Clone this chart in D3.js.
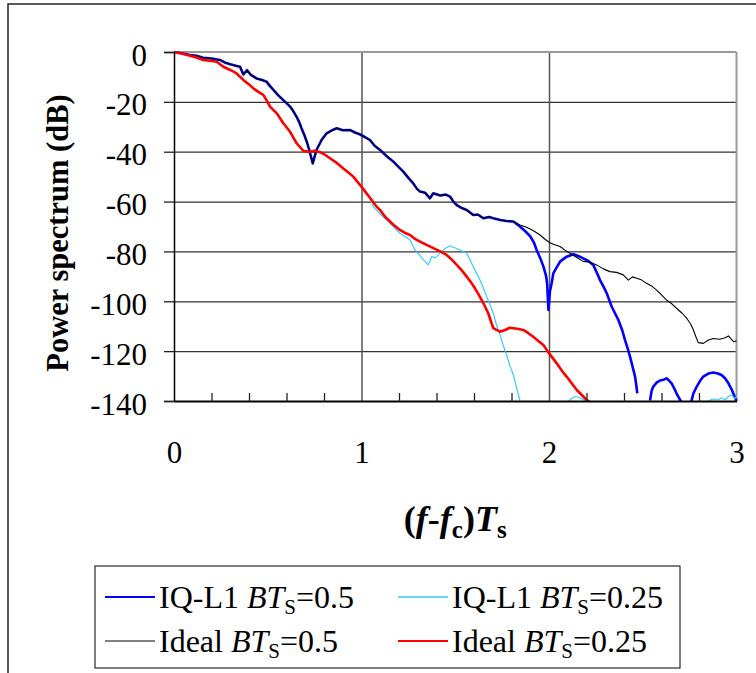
<!DOCTYPE html>
<html>
<head>
<meta charset="utf-8">
<script src="https://cdn.jsdelivr.net/npm/d3@7"></script>
<style>
  body { margin: 0; background: #fff; }
  svg { display: block; font-family: "Liberation Serif", "Times New Roman", serif; }
</style>
</head>
<body>
<svg id="chart" width="756" height="673"></svg>
<script>
// values, [ (f-fc)Ts , dB ], null = gap / off the plot
const idealBT05 = [
  [0,0],[0.04,-0.5],[0.085,-1.2],[0.12,-1.5],[0.156,-2.3],[0.2,-2.6],[0.245,-3.2],[0.27,-4.2],[0.3,-4.9],
  [0.33,-5.5],[0.352,-5.9],[0.37,-9],[0.39,-7.3],[0.41,-9.2],[0.44,-10.6],[0.47,-11.2],[0.494,-11.9],
  [0.51,-13.5],[0.53,-15.2],[0.555,-17.3],[0.583,-19.3],[0.6,-20.5],[0.619,-21.9],[0.635,-23.6],[0.654,-26],
  [0.668,-28.2],[0.68,-30.6],[0.695,-33.3],[0.708,-36],[0.722,-39.5],[0.74,-44.7],[0.76,-39.3],[0.787,-35.3],
  [0.814,-32.6],[0.84,-31.5],[0.868,-30.6],[0.9,-31.4],[0.94,-31.3],[0.965,-32.3],[0.99,-33],[1.02,-34.2],
  [1.045,-35.3],[1.07,-37.6],[1.099,-39.3],[1.135,-41.8],[1.17,-44],[1.2,-46.3],[1.223,-48],[1.25,-50.5],
  [1.276,-52.7],[1.295,-54.8],[1.312,-56],[1.34,-56.5],[1.365,-58.7],[1.383,-56.7],[1.42,-57.6],[1.45,-57.2],
  [1.472,-58],[1.49,-60],[1.508,-61.4],[1.535,-62.6],[1.561,-63.4],[1.596,-65.4],[1.62,-65.2],[1.65,-66.7],
  [1.68,-66.2],[1.703,-66.7],[1.74,-67.4],[1.774,-67.8],[1.81,-68],[1.845,-69.4],[1.88,-70.3],[1.915,-71.6],
  [1.952,-73.4],[1.98,-75.2],[2.005,-76.5],[2.03,-77.3],[2.059,-78],[2.085,-79.5],[2.112,-80.7],[2.15,-82.5],
  [2.183,-84],[2.22,-84.3],[2.254,-85.4],[2.29,-87],[2.325,-88.1],[2.36,-88.4],[2.396,-89.4],[2.423,-91.5],
  [2.445,-90.2],[2.468,-90.8],[2.495,-91.5],[2.52,-92.8],[2.55,-94],[2.574,-95.5],[2.6,-97.4],[2.627,-99.5],
  [2.655,-101],[2.68,-102.8],[2.71,-104.8],[2.734,-106.8],[2.755,-109],[2.77,-111.5],[2.785,-114.5],
  [2.796,-116.6],[2.823,-116.9],[2.85,-115.5],[2.876,-114.9],[2.91,-115.2],[2.939,-114.6],[2.957,-113.9],
  [2.97,-115],[2.984,-116.2],[3.0,-115.8]
];

// IQ-L1 BTs=0.5 sits on the ideal curve up to ~1.81, then splits off
const iqBT05Tail = [
  [1.845,-70],[1.875,-72],[1.9,-74],[1.92,-76.5],[1.934,-79.4],[1.955,-83],[1.97,-86],[1.985,-90],[1.99,-93],
  [1.997,-103.5],[2.005,-96],[2.014,-92.8],[2.023,-88.8],[2.04,-86.5],[2.06,-84],[2.094,-82.1],[2.13,-81.1],
  [2.155,-81.8],[2.183,-82.8],[2.21,-83.8],[2.236,-85.4],[2.255,-88.5],[2.272,-91.5],[2.29,-94],[2.308,-96.8],
  [2.334,-102.1],[2.35,-104.5],[2.37,-107.5],[2.39,-111.5],[2.405,-115.5],[2.42,-119],[2.432,-122.2],
  [2.445,-126],[2.459,-130.2],[2.466,-134],[2.471,-136.9],[2.5,null],
  [2.539,-139.8],[2.547,-136],[2.556,-134.2],[2.575,-132.5],[2.592,-131.8],[2.61,-131.5],[2.627,-130.9],
  [2.64,-131.8],[2.654,-132.9],[2.668,-135],[2.68,-136.9],[2.695,-139],[2.707,-140.5],[2.73,null],
  [2.758,-140.5],[2.77,-137],[2.788,-134.2],[2.805,-132],[2.823,-130.2],[2.85,-129],[2.876,-128.6],[2.9,-129],
  [2.92,-129.6],[2.94,-131],[2.957,-132.9],[2.975,-135.5],[2.99,-138.3],[3.0,-140]
];

const idealBT025 = [
  [0,0],[0.04,-0.6],[0.085,-1.5],[0.12,-2.2],[0.156,-3.2],[0.19,-3.5],[0.228,-3.9],[0.263,-5.9],[0.3,-7.2],
  [0.334,-8.6],[0.37,-11.2],[0.4,-13],[0.423,-14.6],[0.45,-16],[0.476,-17.2],[0.495,-19.5],[0.512,-21.9],
  [0.548,-24.6],[0.583,-28.6],[0.619,-32],[0.654,-36.6],[0.69,-39.7],[0.725,-40],[0.75,-39.6],[0.779,-40.2],
  [0.805,-41.2],[0.832,-42.6],[0.87,-44.6],[0.903,-46.7],[0.93,-48.3],[0.956,-50],[0.975,-51.8],[0.992,-53.3],
  [1.02,-56],[1.045,-58.5],[1.075,-61.5],[1.099,-63.4],[1.12,-65.5],[1.134,-66.7],[1.17,-69.3],[1.205,-71.4],
  [1.23,-72.5],[1.259,-73.4],[1.285,-75],[1.312,-76.1],[1.35,-77.5],[1.383,-78.7],[1.42,-80],[1.454,-81.4],
  [1.48,-83.2],[1.508,-85.4],[1.535,-87.6],[1.561,-90.1],[1.585,-92.5],[1.605,-94.8],[1.625,-97.3],
  [1.641,-99.5],[1.658,-102],[1.676,-104.8],[1.69,-108],[1.703,-110.8],[1.72,-111.5],[1.739,-112.2],
  [1.765,-111.5],[1.792,-110.6],[1.83,-111],[1.863,-111.5],[1.89,-112.8],[1.916,-114.2],[1.945,-116],
  [1.97,-117.5],[1.997,-120.5],[2.02,-122.8],[2.041,-124.9],[2.07,-128],[2.094,-130.2],[2.12,-132.8],
  [2.148,-135.6],[2.175,-137.6],[2.201,-139.6],[2.23,-141]
];

// IQ-L1 BTs=0.25 sits under the red curve up to ~1.05
const iqBT025Tail = [
  [1.063,-62],[1.1,-65],[1.152,-68.7],[1.205,-72.7],[1.259,-75.4],[1.285,-79.4],[1.31,-81.5],[1.33,-83.4],
  [1.356,-85.4],[1.374,-82.1],[1.395,-82.5],[1.419,-80.7],[1.445,-78.8],[1.472,-77.8],[1.5,-78.6],
  [1.525,-79.4],[1.561,-80.7],[1.58,-83.5],[1.596,-86.1],[1.615,-89],[1.632,-91.5],[1.65,-94.8],[1.668,-98.2],
  [1.685,-101.5],[1.703,-104.8],[1.72,-109.5],[1.739,-113.5],[1.755,-117.5],[1.774,-121.5],[1.79,-125.5],
  [1.81,-129.6],[1.825,-134],[1.842,-139],[1.85,-141],[1.9,null],
  [2.1,-140.5],[2.12,-139],[2.14,-138.2],[2.16,-138.5],[2.18,-139.3],[2.2,-140.5],[2.3,null],
  [2.84,-140.5],[2.87,-139.2],[2.9,-139.6],[2.92,-138.8],[2.94,-139.5],[2.96,-138],[2.975,-137.6],
  [2.99,-139],[3.0,-138.4]
];

const iqBT05 = idealBT05.filter(d => d[0] <= 1.81).concat(iqBT05Tail);
const iqBT025 = idealBT025.filter(d => d[0] <= 1.045).concat(iqBT025Tail);

const yTicks = [0, -20, -40, -60, -80, -100, -120, -140];
const xTicks = [0, 1, 2, 3];
const xMinor = [0.2, 0.4, 0.6, 0.8, 1.2, 1.4, 1.6, 1.8, 2.2, 2.4, 2.6, 2.8];

const series = [
  {name: "IQ-L1", bt: "0.5",  data: iqBT05,     color: "#0000ff", key: "#0000ff", w: 2.6},
  {name: "IQ-L1", bt: "0.25", data: iqBT025,    color: "#33ccff", key: "#66d6ff", w: 1.2},
  {name: "Ideal", bt: "0.5",  data: idealBT05,  color: "#000000", key: "#808080", w: 1.1},
  {name: "Ideal", bt: "0.25", data: idealBT025, color: "#ff0000", key: "#ff0000", w: 2.6}
];

const svg = d3.select("#chart");

const x = d3.scaleLinear().domain([0, 3]).range([174, 736.5]);
const y = d3.scaleLinear().domain([-140, 0]).range([401, 52]);

// outer chart frame (cut off at right / bottom like the picture)
svg.append("rect")
  .attr("x", 8).attr("y", 4).attr("width", 800).attr("height", 720)
  .attr("fill", "none").attr("stroke", "#222").attr("stroke-width", 1.5);

// horizontal grid
svg.append("g")
  .attr("transform", `translate(${x(0)},0)`)
  .call(d3.axisLeft(y).tickValues(yTicks.filter(d => d < 0 && d > -140)).tickSize(-(x(3) - x(0))).tickFormat(""))
  .call(g => g.select(".domain").remove())
  .call(g => g.selectAll("line").attr("stroke", "#333").attr("stroke-width", 1.3));

// vertical grid
svg.append("g")
  .attr("transform", `translate(0,${y(-140)})`)
  .call(d3.axisBottom(x).tickValues([1, 2]).tickSize(-(y(-140) - y(0))).tickFormat(""))
  .call(g => g.select(".domain").remove())
  .call(g => g.selectAll("line").attr("stroke", "#555").attr("stroke-width", 1.5));

// top and right borders of plot area
svg.append("line").attr("x1", x(0)).attr("x2", x(3)).attr("y1", y(0)).attr("y2", y(0))
  .attr("stroke", "#999").attr("stroke-width", 2);
svg.append("line").attr("x1", x(3)).attr("x2", x(3)).attr("y1", y(0)).attr("y2", y(-140))
  .attr("stroke", "#999").attr("stroke-width", 2);

svg.append("clipPath").attr("id", "plotclip")
  .append("rect").attr("x", x(0)).attr("y", y(0) - 3).attr("width", x(3) - x(0) + 2).attr("height", y(-140) - y(0) + 3);

const line = d3.line()
  .defined(d => d[1] !== null)
  .x(d => x(d[0]))
  .y(d => y(d[1]));

svg.append("g").attr("clip-path", "url(#plotclip)")
  .selectAll("path")
  .data(series)
  .join("path")
  .attr("d", d => line(d.data))
  .attr("fill", "none")
  .attr("stroke", d => d.color)
  .attr("stroke-width", d => d.w)
  .attr("stroke-linejoin", "round");

// y axis
svg.append("g")
  .attr("transform", `translate(${x(0)},0)`)
  .call(d3.axisLeft(y).tickValues(yTicks).tickSize(10).tickPadding(17).tickFormat(d => String(d)))
  .call(g => g.select(".domain").attr("stroke", "#000").attr("stroke-width", 1.5))
  .call(g => g.selectAll("line").attr("stroke", "#222").attr("stroke-width", 1.3))
  .call(g => g.selectAll("text").attr("dy", "0.42em")
    .attr("font-family", "Liberation Serif").attr("font-size", 31).attr("fill", "#000"));

// x axis: labels
svg.append("g")
  .attr("transform", `translate(0,${y(-140)})`)
  .call(d3.axisBottom(x).tickValues(xTicks).tickSize(0).tickPadding(40).tickFormat(d => String(d)))
  .call(g => g.select(".domain").attr("stroke", "#000").attr("stroke-width", 2))
  .call(g => g.selectAll("text")
    .attr("font-family", "Liberation Serif").attr("font-size", 31).attr("fill", "#000"));

// x axis: small ticks pointing up into the plot
svg.append("g")
  .attr("transform", `translate(0,${y(-140)})`)
  .call(d3.axisTop(x).tickValues(xMinor).tickSize(8).tickFormat(""))
  .call(g => g.select(".domain").remove())
  .call(g => g.selectAll("line").attr("stroke", "#222").attr("stroke-width", 1.3));

// axis titles
svg.append("text")
  .attr("transform", "translate(68,233) rotate(-90)")
  .attr("text-anchor", "middle")
  .attr("font-size", 30.5).attr("font-weight", "bold")
  .text("Power spectrum (dB)");

const xt = svg.append("text")
  .attr("x", (x(0) + x(3)) / 2).attr("y", 531)
  .attr("text-anchor", "middle")
  .attr("font-size", 36).attr("font-weight", "bold");
xt.append("tspan").text("(");
xt.append("tspan").attr("font-style", "italic").text("f");
xt.append("tspan").text("-");
xt.append("tspan").attr("font-style", "italic").text("f");
xt.append("tspan").attr("font-size", 25).attr("dy", 7).text("c");
xt.append("tspan").attr("dy", -7).text(")");
xt.append("tspan").attr("font-style", "italic").text("T");
xt.append("tspan").attr("font-size", 25).attr("dy", 7).text("s");

// legend
const lg = svg.append("g");
lg.append("rect")
  .attr("x", 95).attr("y", 566).attr("width", 585).attr("height", 102)
  .attr("fill", "#fff").attr("stroke", "#000").attr("stroke-width", 1);

const legPos = [[105, 597], [398, 597], [105, 641], [398, 641]];
series.forEach((s, i) => {
  const [lx, ly] = legPos[i];
  lg.append("line")
    .attr("x1", lx).attr("x2", lx + 50).attr("y1", ly).attr("y2", ly)
    .attr("stroke", s.key).attr("stroke-width", 2);
  const t = lg.append("text")
    .attr("x", lx + 54).attr("y", ly + 11)
    .attr("font-size", 32);
  t.append("tspan").text(s.name + " ");
  t.append("tspan").attr("font-style", "italic").text("BT");
  t.append("tspan").attr("font-size", 21).attr("dy", 6).text("S");
  t.append("tspan").attr("dy", -6).text("=" + s.bt);
});
</script>
</body>
</html>
